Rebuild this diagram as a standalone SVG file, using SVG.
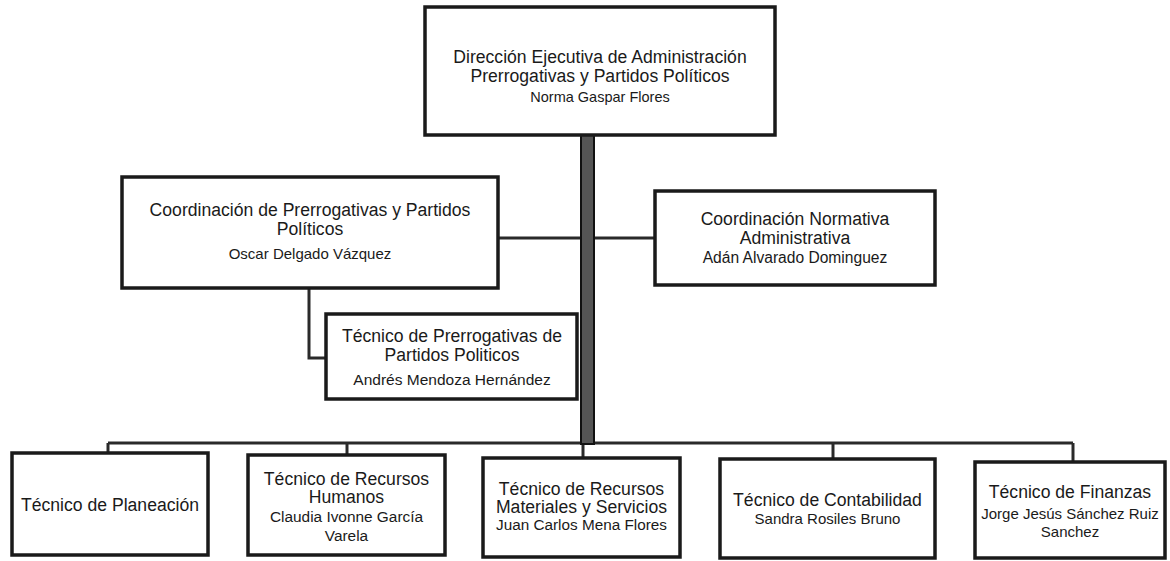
<svg xmlns="http://www.w3.org/2000/svg" width="1170" height="561" viewBox="0 0 1170 561">
<style>
.box{fill:#fff;stroke:#1a1a1a;stroke-width:3.5}
.ln{fill:none;stroke:#2a2a2a;stroke-width:3}
text{font-family:"Liberation Sans",Arial,sans-serif;fill:#1a1a1a;text-anchor:middle}
.t{font-size:17.6px}
.n{font-size:15px}
</style>
<rect width="1170" height="561" fill="#fff"/>
<g id="connectors">
<line class="ln" x1="498" y1="238" x2="655" y2="238"/>
<polyline class="ln" points="309,288 309,358 326,358"/>
<line class="ln" x1="108" y1="443" x2="1073" y2="443"/>
<line class="ln" x1="108" y1="443" x2="108" y2="453"/>
<line class="ln" x1="347" y1="443" x2="347" y2="455"/>
<line class="ln" x1="583" y1="443" x2="583" y2="458"/>
<line class="ln" x1="833" y1="443" x2="833" y2="459"/>
<line class="ln" x1="1073" y1="443" x2="1073" y2="462"/>
<rect x="581" y="135" width="13" height="309" fill="#555" stroke="#111" stroke-width="2"/>
</g>
<g id="n-direccion">
<rect class="box" x="425" y="7" width="350" height="128"/>
<text class="t" x="600" y="63">Dirección Ejecutiva de Administración</text>
<text class="t" x="600" y="82">Prerrogativas y Partidos Políticos</text>
<text class="n" x="600" y="102" style="font-size:14.5px">Norma Gaspar Flores</text>
</g>
<g id="n-coord-prerrogativas">
<rect class="box" x="122" y="177" width="376" height="111"/>
<text class="t" x="310" y="216">Coordinación de Prerrogativas y Partidos</text>
<text class="t" x="310" y="235">Políticos</text>
<text class="n" x="310" y="259">Oscar Delgado Vázquez</text>
</g>
<g id="n-coord-normativa">
<rect class="box" x="655" y="191" width="280" height="94"/>
<text class="t" x="795" y="225">Coordinación Normativa</text>
<text class="t" x="795" y="244">Administrativa</text>
<text class="n" x="795" y="263" style="font-size:15.6px">Adán Alvarado Dominguez</text>
</g>
<g id="n-tec-prerrogativas">
<rect class="box" x="326" y="314" width="251" height="85"/>
<text class="t" x="452" y="342">Técnico de Prerrogativas de</text>
<text class="t" x="452" y="361">Partidos Politicos</text>
<text class="n" x="452" y="385" style="font-size:15.5px">Andrés Mendoza Hernández</text>
</g>
<g id="n-planeacion">
<rect class="box" x="12" y="453" width="196" height="102"/>
<text class="t" x="110" y="511">Técnico de Planeación</text>
</g>
<g id="n-rrhh">
<rect class="box" x="248" y="455" width="197" height="100"/>
<text class="t" x="346.5" y="485">Técnico de Recursos</text>
<text class="t" x="346.5" y="503">Humanos</text>
<text class="n" x="346.5" y="522" style="font-size:15.4px">Claudia Ivonne García</text>
<text class="n" x="346.5" y="541" style="font-size:15.4px">Varela</text>
</g>
<g id="n-materiales">
<rect class="box" x="483" y="458" width="197" height="99"/>
<text class="t" x="581.5" y="495">Técnico de Recursos</text>
<text class="t" x="581.5" y="513">Materiales y Servicios</text>
<text class="n" x="581.5" y="530" style="font-size:15.3px">Juan Carlos Mena Flores</text>
</g>
<g id="n-contabilidad">
<rect class="box" x="720" y="459" width="215" height="99"/>
<text class="t" x="827.5" y="506">Técnico de Contabilidad</text>
<text class="n" x="827.5" y="524">Sandra Rosiles Bruno</text>
</g>
<g id="n-finanzas">
<rect class="box" x="975" y="462" width="190" height="96"/>
<text class="t" x="1070" y="498">Técnico de Finanzas</text>
<text class="n" x="1070" y="519">Jorge Jesús Sánchez Ruiz</text>
<text class="n" x="1070" y="537">Sanchez</text>
</g>
</svg>
